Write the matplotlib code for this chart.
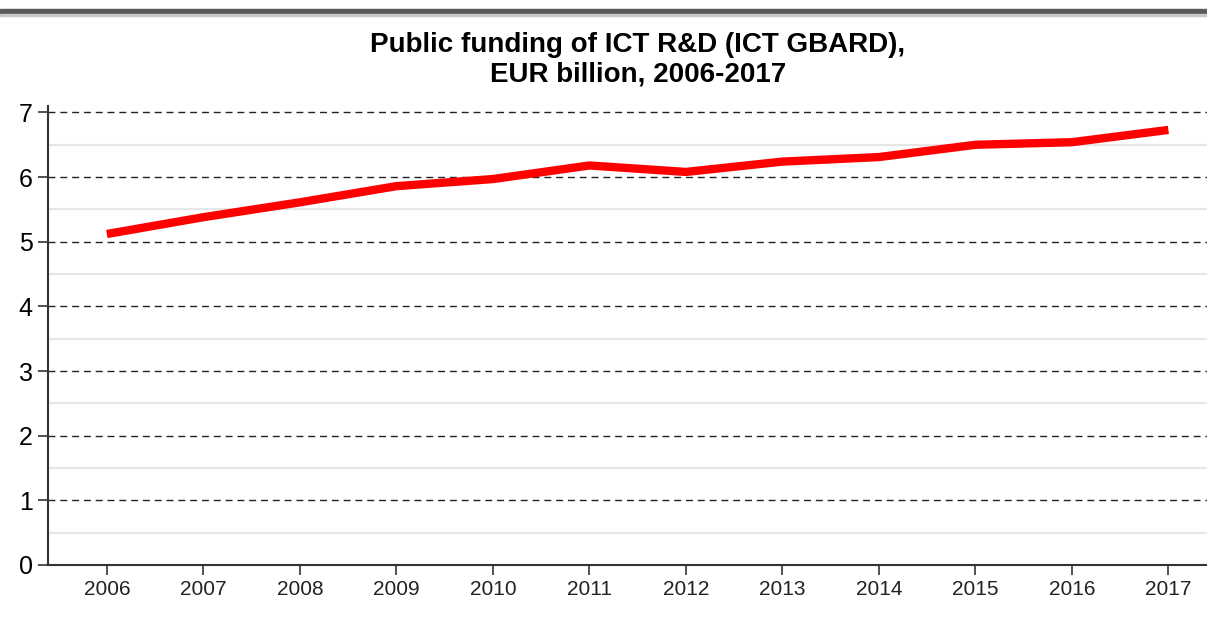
import matplotlib.pyplot as plt
from matplotlib.patches import Rectangle
import numpy as np

plt.rcParams['font.family'] = ['Liberation Sans', 'DejaVu Sans']

# data
years = [2006, 2007, 2008, 2009, 2010, 2011, 2012, 2013, 2014, 2015, 2016, 2017]
gbard = [5.12, 5.38, 5.61, 5.86, 5.97, 6.18, 6.08, 6.24, 6.31, 6.50, 6.54, 6.73]
title = "Public funding of ICT R&D (ICT GBARD),\nEUR billion, 2006-2017"

fig = plt.figure(figsize=(12.07, 6.41), dpi=100)
ax = fig.add_axes([48 / 1207, 1 - 565 / 641, 1 - 48 / 1207, (565 - 106) / 641])

# grey band at the top of the picture
fig.patches.append(Rectangle((0, 1 - 14 / 641), 1, 5 / 641, transform=fig.transFigure,
                             color="#5a5a5a", zorder=0))
fig.patches.append(Rectangle((0, 1 - 16 / 641), 1, 2 / 641, transform=fig.transFigure,
                             color="#c8c8c8", zorder=0))

ax.plot(years, gbard, color="#ff0000", linewidth=6, solid_capstyle="butt", zorder=3)

ax.set_xlim(2005.39, 2017.4)
ax.set_ylim(0, 7.1)
ax.set_xticks(years)
ax.set_yticks(range(0, 8))
ax.set_yticks(np.arange(0.5, 7, 1), minor=True)
ax.grid(axis="y", which="major", linestyle=(0, (5, 3.5)), color="#222222", linewidth=1)
ax.grid(axis="y", which="minor", linestyle="-", color="#e6e6e6", linewidth=1.5)
ax.set_axisbelow(True)

ax.tick_params(axis="x", which="major", labelsize=15, length=7, width=1.2,
               color="#333333", pad=4, labelcolor="#222222")
ax.tick_params(axis="y", which="major", labelsize=18, length=7, width=1.2,
               color="#333333", pad=4)
ax.tick_params(axis="y", which="minor", length=0)

for side in ["top", "right"]:
    ax.spines[side].set_visible(False)
for side in ["left", "bottom"]:
    ax.spines[side].set_color("#333333")
    ax.spines[side].set_linewidth(1.5)

fig.text(638 / 1207, 1 - 60 / 641, title, ha="center", va="center",
         fontsize=20, fontweight="bold", linespacing=1.2)

fig.savefig("out.png", dpi=100)
